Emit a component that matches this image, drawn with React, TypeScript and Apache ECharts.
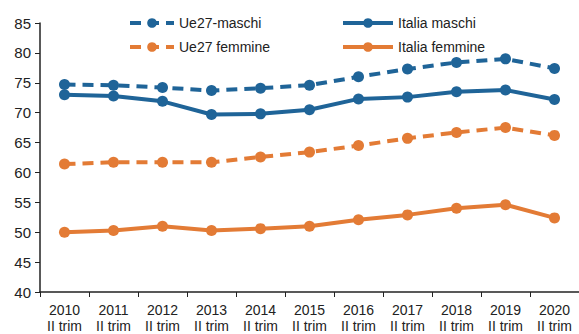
import React, { useEffect, useRef } from "react";
import * as echarts from "echarts";

const categories = ["2010", "2011", "2012", "2013", "2014", "2015", "2016", "2017", "2018", "2019", "2020"];
const ue27Maschi = [74.7, 74.6, 74.2, 73.7, 74.1, 74.6, 76.0, 77.3, 78.4, 79.0, 77.4];
const italiaMaschi = [73.0, 72.8, 71.9, 69.7, 69.8, 70.5, 72.3, 72.6, 73.5, 73.8, 72.2];
const ue27Femmine = [61.4, 61.7, 61.7, 61.7, 62.6, 63.4, 64.5, 65.7, 66.7, 67.5, 66.2];
const italiaFemmine = [50.0, 50.3, 51.0, 50.3, 50.6, 51.0, 52.1, 52.9, 54.0, 54.6, 52.4];
const yTicks = { min: 40, max: 85, interval: 5 };

const BLUE = "#1f6498";
const ORANGE = "#e37b35";
const FONT = "Liberation Sans";

export default function App() {
  const ref = useRef<HTMLDivElement>(null);
  useEffect(() => {
    if (!ref.current) return;
    const chart = echarts.init(ref.current, undefined, { renderer: "svg" });
    const mk = (name: string, data: number[], color: string, dashed: boolean) => ({
      name,
      type: "line",
      data,
      symbol: "circle",
      symbolSize: 11,
      itemStyle: { color },
      lineStyle: { color, width: 4, type: dashed ? [11, 7] : "solid" },
    });
    const legendBase = {
      orient: "vertical",
      top: 11,
      itemHeight: 12,
      itemGap: 10,
      lineStyle: { width: 4 },
      textStyle: { fontSize: 14, color: "#222", fontFamily: FONT },
    };
    chart.setOption({
      animation: false,
      textStyle: { fontFamily: FONT },
      grid: { left: 40, right: 0, top: 23, bottom: 39, containLabel: false },
      legend: [
        { ...legendBase, left: 123, itemWidth: 44, data: ["Ue27-maschi", "Ue27 femmine"] },
        { ...legendBase, left: 336, itemWidth: 50, data: ["Italia maschi", "Italia femmine"] },
      ],
      xAxis: {
        type: "category",
        data: categories,
        boundaryGap: true,
        axisLine: { lineStyle: { color: "#222", width: 1.5 } },
        axisTick: { show: true, length: 5, lineStyle: { color: "#222" } },
        axisLabel: {
          color: "#222",
          fontSize: 14,
          lineHeight: 16,
          margin: 10,
          interval: 0,
          formatter: (v: string) => v + "\nII trim",
        },
      },
      yAxis: {
        type: "value",
        min: yTicks.min,
        max: yTicks.max,
        interval: yTicks.interval,
        axisLine: { show: true, lineStyle: { color: "#222", width: 1.5 } },
        axisTick: { show: true, length: 5, lineStyle: { color: "#222" } },
        splitLine: { show: false },
        axisLabel: { color: "#222", fontSize: 15, margin: 9 },
      },
      series: [
        mk("Ue27-maschi", ue27Maschi, BLUE, true),
        mk("Italia maschi", italiaMaschi, BLUE, false),
        mk("Ue27 femmine", ue27Femmine, ORANGE, true),
        mk("Italia femmine", italiaFemmine, ORANGE, false),
      ],
    });
    return () => chart.dispose();
  }, []);
  return <div ref={ref} style={{ width: 579, height: 334, position: "absolute", left: 0, top: 0, background: "#fff" }} />;
}
